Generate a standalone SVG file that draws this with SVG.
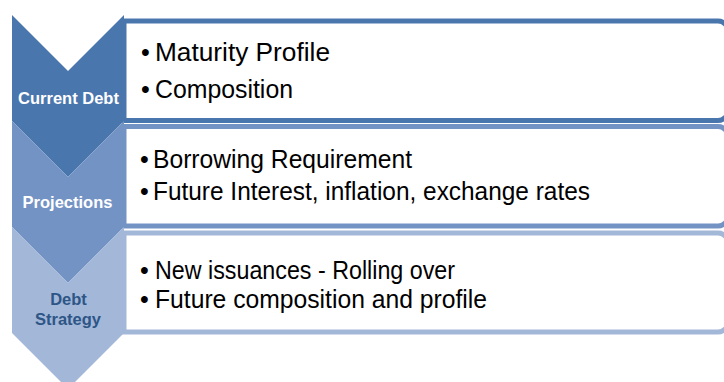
<svg xmlns="http://www.w3.org/2000/svg" width="724" height="382" viewBox="0 0 724 382">
  <style>
    .box { fill: #ffffff; stroke-width: 5; }
    .item { font-family: "Liberation Sans", Arial, sans-serif; font-size: 25px; fill: #000000; }
    .label { font-family: "Liberation Sans", Arial, sans-serif; font-size: 16.5px; font-weight: bold; text-anchor: middle; }
    .s1 { fill: #4A76AE; stroke: #4A76AE; }
    .s2 { fill: #7393C4; stroke: #7393C4; }
    .s3 { fill: #A3B7D9; stroke: #A3B7D9; }
  </style>
  <rect width="724" height="382" fill="#ffffff"/>

  <!-- step 1: current debt -->
  <g id="step-current-debt">
    <path class="box" stroke="#4A76AE" d="M124,21 H718 A10,10 0 0 1 728,31 V110.5 A10,10 0 0 1 718,120.5 H124 Z"/>
    <polygon fill="#4A76AE" points="12,15 68,71 124,15 124,121 68,177 12,121"/>
    <text class="label" x="68.5" y="104" fill="#ffffff">Current Debt</text>
    <text class="item" x="141" y="61"><tspan>•</tspan><tspan x="155" textLength="175" lengthAdjust="spacingAndGlyphs">Maturity Profile</tspan></text>
    <text class="item" x="141" y="98"><tspan>•</tspan><tspan x="155" textLength="138" lengthAdjust="spacingAndGlyphs">Composition</tspan></text>
  </g>

  <!-- step 2: projections -->
  <g id="step-projections">
    <path class="box" stroke="#7393C4" d="M124,126.5 H718 A10,10 0 0 1 728,136.5 V216 A10,10 0 0 1 718,226 H124 Z"/>
    <polygon fill="#7393C4" points="12,121 68,177 124,121 124,227 68,283 12,227"/>
    <text class="label" x="67.5" y="208" fill="#ffffff">Projections</text>
    <text class="item" x="140" y="168"><tspan>•</tspan><tspan x="153" textLength="259" lengthAdjust="spacingAndGlyphs">Borrowing Requirement</tspan></text>
    <text class="item" x="140" y="200"><tspan>•</tspan><tspan x="153" textLength="437" lengthAdjust="spacingAndGlyphs">Future Interest, inflation, exchange rates</tspan></text>
  </g>

  <!-- step 3: debt strategy -->
  <g id="step-debt-strategy">
    <path class="box" stroke="#A3B7D9" d="M124,233 H718 A10,10 0 0 1 728,243 V322 A10,10 0 0 1 718,332 H124 Z"/>
    <polygon fill="#A3B7D9" points="12,227 68,283 124,227 124,333 68,389 12,333"/>
    <text class="label" x="68.5" y="305" fill="#2D5586">Debt</text>
    <text class="label" x="68" y="325" fill="#2D5586">Strategy</text>
    <text class="item" x="140" y="279"><tspan>•</tspan><tspan x="155" textLength="300" lengthAdjust="spacingAndGlyphs">New issuances - Rolling over</tspan></text>
    <text class="item" x="140" y="308"><tspan>•</tspan><tspan x="155" textLength="332" lengthAdjust="spacingAndGlyphs">Future composition and profile</tspan></text>
  </g>
</svg>
